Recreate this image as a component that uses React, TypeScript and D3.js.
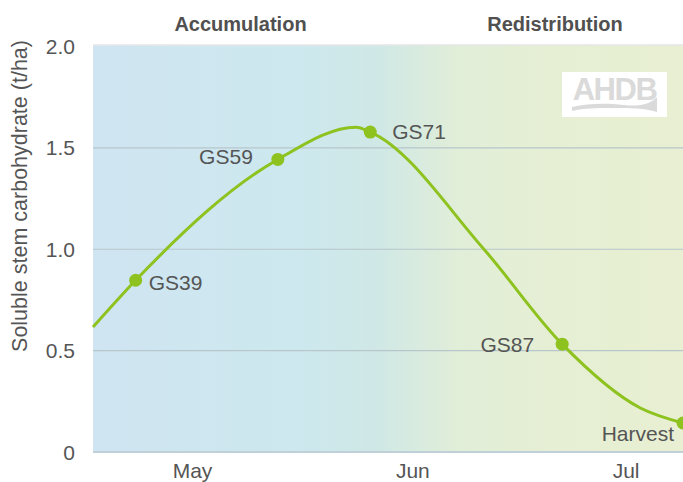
import React from "react";
import * as d3 from "d3";

const W = 683;
const H = 482;

// Curve vertices (date, t/ha); markers only where a stage label exists
const curveDates = ["2017-04-17", "2017-04-23", "2017-05-13", "2017-05-24", "2017-05-26", "2017-06-11", "2017-06-22", "2017-07-03", "2017-07-09"];
const curveValues = [0.616, 0.847, 1.443, 1.602, 1.578, 1.0, 0.532, 0.217, 0.143];
const curveStages = ["", "GS39", "GS59", "", "GS71", "", "GS87", "", "Harvest"];
const monthTicks = ["2017-05-01", "2017-06-01", "2017-07-01"];
const monthLabels = ["May", "Jun", "Jul"];
const yTicks = [0, 0.5, 1.0, 1.5, 2.0];
const phaseLabels = ["Accumulation", "Redistribution"];

const parse = d3.timeParse("%Y-%m-%d");

export default function App() {
  const left = 93, right = 683, top = 46.5, bottom = 452;
  const x = d3.scaleTime().domain([parse("2017-04-17")!, parse("2017-07-09")!]).range([left, right]);
  const y = d3.scaleLinear().domain([0, 2]).range([bottom, top]);
  const pts = curveDates.map((d, i) => ({ d: parse(d)!, v: curveValues[i], s: curveStages[i] }));
  const line = d3.line<{ d: Date; v: number }>().x(p => x(p.d)).y(p => y(p.v)).curve(d3.curveMonotoneX);
  const font = "'Liberation Sans', Arial, Helvetica, sans-serif";
  const textColor = "#555555";
  const labelPos: Record<string, { dx: number; dy: number; anchor: string }> = {
    GS39: { dx: 13, dy: 10, anchor: "start" },
    GS59: { dx: -25, dy: 5, anchor: "end" },
    GS71: { dx: 22, dy: 6.5, anchor: "start" },
    GS87: { dx: -28, dy: 8, anchor: "end" },
    Harvest: { dx: -9, dy: 18, anchor: "end" },
  };
  return (
    <svg width={W} height={H} style={{ position: "absolute", left: 0, top: 0 }} fontFamily={font}>
      <defs>
        <linearGradient id="bg" x1={left} x2={right} y1={0} y2={0} gradientUnits="userSpaceOnUse">
          <stop offset="0" stopColor="#cfe5f2" />
          <stop offset="0.35" stopColor="#cde8ee" />
          <stop offset="0.48" stopColor="#cfe8e6" />
          <stop offset="0.62" stopColor="#e1eed8" />
          <stop offset="0.78" stopColor="#e6efd4" />
          <stop offset="1" stopColor="#e8efd2" />
        </linearGradient>
      </defs>
      <rect x={left} y={top - 1.5} width={right - left} height={bottom - top + 1.5} fill="url(#bg)" />
      <line x1={left} x2={right} y1={top - 1.5} y2={top - 1.5} stroke="#e6e6e6" strokeWidth={1.5} />
      {yTicks.slice(1, 4).map(t => (
        <line key={t} x1={left} x2={right} y1={y(t)} y2={y(t)} stroke="#b7c6cb" strokeWidth={1.2} />
      ))}
      <line x1={left} x2={right} y1={bottom} y2={bottom} stroke="#bfd0d8" strokeWidth={2} />
      {yTicks.map(t => (
        <text key={t} x={75} y={y(t)} dy="0.36em" textAnchor="end" fontSize={21} fill={textColor}>
          {t === 0 ? "0" : d3.format(".1f")(t)}
        </text>
      ))}
      {monthTicks.map((m, i) => (
        <text key={m} x={x(parse(m)!)} y={478} textAnchor="middle" fontSize={21} fill={textColor}>
          {monthLabels[i]}
        </text>
      ))}
      <text transform={`translate(27, 196) rotate(-90)`} textAnchor="middle" fontSize={21.5} fill={textColor}>
        Soluble stem carbohydrate (t/ha)
      </text>
      <text x={240.5} y={31} textAnchor="middle" fontSize={20} fontWeight="bold" fill="#505050">{phaseLabels[0]}</text>
      <text x={555} y={31} textAnchor="middle" fontSize={20} fontWeight="bold" fill="#505050">{phaseLabels[1]}</text>
      <g>
        <rect x={562} y={72} width={105} height={45} fill="#ffffff" />
        <text x={614.5} y={100} textAnchor="middle" fontSize={31} fontWeight="bold" fill="#dadada" letterSpacing={-1.5}>AHDB</text>
        <path d="M572,107 C590,103 606,103 624,105 C640,107 650,104 657,97 L657,112 C645,108 630,108 612,108 C596,108 584,108 572,111 Z" fill="#dadada" />
      </g>
      <path d={line(pts) || ""} fill="none" stroke="#8dc21f" strokeWidth={3} />
      {pts.filter(p => p.s).map(p => (
        <g key={p.s}>
          <circle cx={x(p.d)} cy={y(p.v)} r={6.5} fill="#8dc21f" />
          <text x={x(p.d) + labelPos[p.s].dx} y={y(p.v) + labelPos[p.s].dy} textAnchor={labelPos[p.s].anchor} fontSize={21} fill={textColor}>
            {p.s}
          </text>
        </g>
      ))}
    </svg>
  );
}
